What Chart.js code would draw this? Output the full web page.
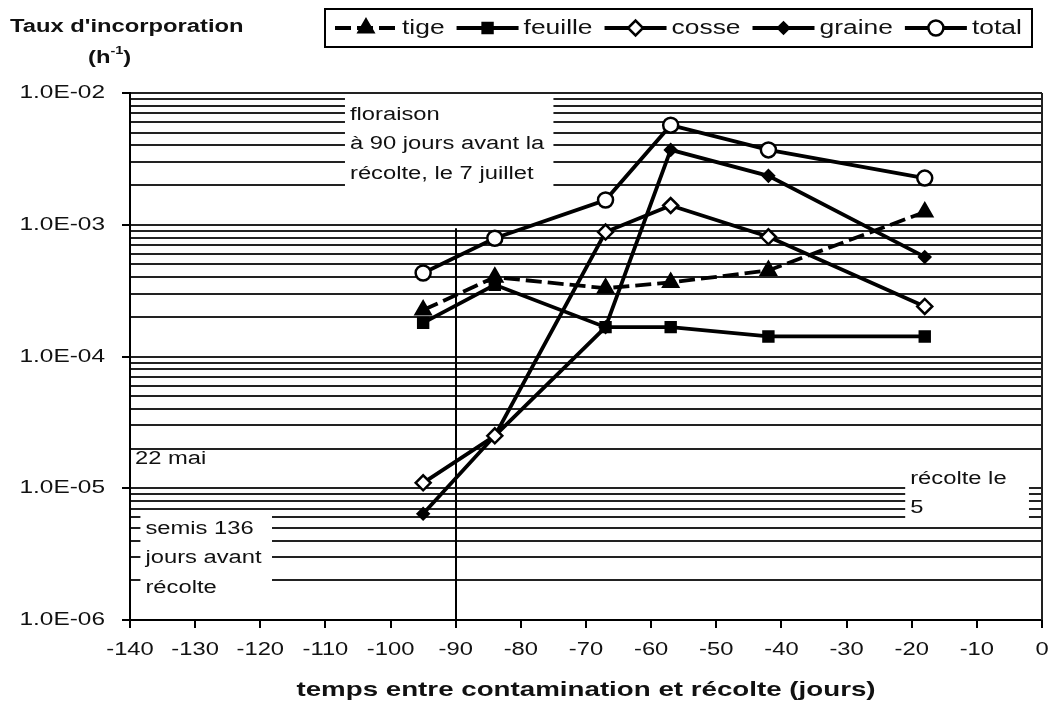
<!DOCTYPE html>
<html>
<head>
<meta charset="utf-8">
<script src="https://cdn.jsdelivr.net/npm/chart.js@4/dist/chart.umd.min.js"></script>
<style>
html,body{margin:0;padding:0;background:#fff;}
canvas{display:block;}
</style>
</head>
<body>
<canvas id="c" width="1053" height="704"></canvas>
<script>
// ---- data ----
const days = [-95, -84, -67, -57, -42, -18];
const tige    = [2.25e-4, 4.0e-4, 3.3e-4, 3.65e-4, 4.5e-4, 1.25e-3];
const feuille = [1.8e-4, 3.5e-4, 1.67e-4, 1.67e-4, 1.42e-4, 1.42e-4];
const cosse   = [1.1e-5, 2.5e-5, 8.8e-4, 1.4e-3, 8.1e-4, 2.4e-4];
const graine  = [6.4e-6, 2.5e-5, 1.67e-4, 3.7e-3, 2.35e-3, 5.7e-4];
const total   = [4.3e-4, 7.9e-4, 1.54e-3, 5.7e-3, 3.7e-3, 2.26e-3];
const seriesNames = ['tige', 'feuille', 'cosse', 'graine', 'total'];

const xTicks = [-140, -130, -120, -110, -100, -90, -80, -70, -60, -50, -40, -30, -20, -10, 0];
const yDecades = [1e-6, 1e-5, 1e-4, 1e-3, 1e-2];
const yTickLabels = ['1.0E-06', '1.0E-05', '1.0E-04', '1.0E-03', '1.0E-02'];
const yMinorMultipliers = [2, 3, 4, 5, 6, 7, 8, 9];

const xTitle = 'temps entre contamination et récolte (jours)';
const yTitle = "Taux d'incorporation";

// annotations (data coordinates)
const floraisonLine = { x: -90, yTop: 9.4e-4, yBottom: 1e-6 };
const notes = [
  { x0: -107, x1: -75, y0: 9.5e-3, y1: 1.75e-3, lines: ['floraison', 'à 90 jours avant la', 'récolte, le 7 juillet'], box: true },
  { x0: -138.4, x1: -118.2, y0: 6.6e-6, y1: 1.3e-6, lines: ['semis 136', 'jours avant', 'récolte'], box: true },
  { x0: -21.0, x1: -2.0, y0: 1.5e-5, y1: 5.5e-6, lines: ['récolte le', '5'], box: true },
  { x0: -140, x1: -120, y0: 2.5e-5, y1: 1.1e-5, lines: ['22 mai'], box: false }
];

const SX = 1.32;
const FAM = '"Liberation Sans", Arial, sans-serif';

function txt(ctx, s, x, y, font, align, sx) {
  sx = sx || SX;
  ctx.save();
  ctx.font = font;
  ctx.fillStyle = '#111';
  ctx.textBaseline = 'middle';
  ctx.textAlign = 'left';
  const w = ctx.measureText(s).width * sx;
  let left = x;
  if (align === 'right') left = x - w;
  else if (align === 'center') left = x - w / 2;
  ctx.translate(left, y);
  ctx.scale(sx, 1);
  ctx.fillText(s, 0, 0);
  ctx.restore();
  return w;
}

const styles = {
  tige:    { pointStyle: 'triangle', pointRadius: 8.5, pointBackgroundColor: '#000', borderDash: [16, 6] },
  feuille: { pointStyle: 'rect', pointRadius: 7, pointBackgroundColor: '#000', borderDash: [] },
  cosse:   { pointStyle: 'rectRot', pointRadius: 7.5, pointBackgroundColor: '#fff', borderDash: [] },
  graine:  { pointStyle: 'rectRot', pointRadius: 5.5, pointBackgroundColor: '#000', borderDash: [] },
  total:   { pointStyle: 'circle', pointRadius: 7.5, pointBackgroundColor: '#fff', borderDash: [] }
};
const seriesValues = { tige, feuille, cosse, graine, total };

const datasets = seriesNames.map(name => ({
  label: name,
  data: days.map((d, i) => ({ x: d, y: seriesValues[name][i] })),
  borderColor: '#000',
  borderWidth: 3.8,
  borderDash: styles[name].borderDash,
  pointStyle: styles[name].pointStyle,
  pointRadius: styles[name].pointRadius,
  pointBackgroundColor: styles[name].pointBackgroundColor,
  pointBorderColor: '#000',
  pointBorderWidth: 2.5,
  tension: 0,
  fill: false
}));

const annotPlugin = {
  id: 'annot',
  beforeDatasetsDraw(chart) {
    const ctx = chart.ctx, xs = chart.scales.x, ys = chart.scales.y;
    ctx.save();
    ctx.strokeStyle = '#000';
    ctx.lineWidth = 2;
    const vx = Math.round(xs.getPixelForValue(floraisonLine.x));
    ctx.beginPath();
    ctx.moveTo(vx, ys.getPixelForValue(floraisonLine.yTop));
    ctx.lineTo(vx, ys.getPixelForValue(floraisonLine.yBottom));
    ctx.stroke();
    ctx.restore();
    notes.forEach(n => {
      const l = xs.getPixelForValue(n.x0), r = xs.getPixelForValue(n.x1);
      const t = ys.getPixelForValue(n.y0), b = ys.getPixelForValue(n.y1);
      if (n.box) {
        ctx.save();
        ctx.fillStyle = '#fff';
        ctx.fillRect(l, t, r - l, b - t);
        ctx.restore();
      }
      const lh = 29.5;
      const h = lh * n.lines.length;
      const startY = (t + b) / 2 - h / 2 + lh / 2;
      n.lines.forEach((s, i) => {
        txt(ctx, s, l + 5, startY + i * lh, '18px ' + FAM, 'left');
      });
    });
  },
  afterDraw(chart) {
    const ctx = chart.ctx, xs = chart.scales.x, ys = chart.scales.y;
    const ca = chart.chartArea;
    ctx.save();
    ctx.strokeStyle = '#222';
    ctx.lineWidth = 2;
    ctx.beginPath();
    ctx.moveTo(ca.right, ca.top);
    ctx.lineTo(ca.right, ca.bottom);
    ctx.stroke();
    ctx.restore();
    yDecades.forEach((v, i) => {
      txt(ctx, yTickLabels[i], 105, ys.getPixelForValue(v), '18.5px ' + FAM, 'right');
    });
    xTicks.forEach(v => {
      txt(ctx, String(v), xs.getPixelForValue(v), 650, '18px ' + FAM, 'center');
    });
    txt(ctx, xTitle, (ca.left + ca.right) / 2, 690, 'bold 21px ' + FAM, 'center');
    txt(ctx, yTitle, 10, 27, 'bold 18px ' + FAM, 'left');
    let px = 88;
    px += txt(ctx, '(h', px, 58, 'bold 18px ' + FAM, 'left');
    px += txt(ctx, '-1', px, 51, 'bold 11px ' + FAM, 'left');
    txt(ctx, ')', px, 58, 'bold 18px ' + FAM, 'left');
    // legend
    ctx.save();
    ctx.fillStyle = '#fff';
    ctx.fillRect(325, 9, 707, 38);
    ctx.strokeStyle = '#000';
    ctx.lineWidth = 2;
    ctx.strokeRect(325, 9, 707, 38);
    ctx.restore();
    let lx = 335;
    const ly = 28;
    chart.data.datasets.forEach(ds => {
      ctx.save();
      ctx.strokeStyle = '#000';
      ctx.lineWidth = 3.8;
      ctx.setLineDash(ds.borderDash || []);
      ctx.beginPath();
      ctx.moveTo(lx, ly);
      ctx.lineTo(lx + 62, ly);
      ctx.stroke();
      ctx.setLineDash([]);
      ctx.fillStyle = ds.pointBackgroundColor;
      ctx.strokeStyle = '#000';
      ctx.lineWidth = 2.5;
      Chart.helpers.drawPoint(ctx, { pointStyle: ds.pointStyle, rotation: 0, radius: ds.pointRadius, borderWidth: 2.5 }, lx + 31, ly);
      ctx.restore();
      lx += 62 + 5;
      lx += txt(ctx, ds.label, lx, ly, '20px ' + FAM, 'left');
      lx += 12;
    });
  }
};

new Chart(document.getElementById('c'), {
  type: 'line',
  data: { datasets },
  options: {
    responsive: false,
    animation: false,
    devicePixelRatio: 1,
    layout: { padding: { top: 93, right: 8, left: 0, bottom: 0 } },
    plugins: { legend: { display: false }, tooltip: { enabled: false } },
    scales: {
      x: {
        type: 'linear',
        min: -140,
        max: 0,
        afterBuildTicks: s => { s.ticks = xTicks.map(v => ({ value: v })); },
        afterFit: s => { s.height = 84; },
        ticks: { display: false, autoSkip: false },
        grid: { drawOnChartArea: false, drawTicks: true, tickLength: 8, color: '#000', tickColor: '#000', lineWidth: 2 },
        border: { display: true, color: '#000', width: 2 }
      },
      y: {
        type: 'logarithmic',
        min: 1e-6,
        max: 1e-2,
        afterBuildTicks: s => {
          const t = [];
          yDecades.forEach((d, i) => {
            t.push({ value: d, major: true });
            if (i < yDecades.length - 1) yMinorMultipliers.forEach(m => t.push({ value: d * m, major: false }));
          });
          s.ticks = t;
        },
        afterFit: s => { s.width = 130; },
        ticks: { display: false, autoSkip: false },
        grid: {
          drawOnChartArea: true,
          drawTicks: true,
          tickLength: 8,
          color: '#222',
          lineWidth: 2,
          tickColor: c => (c.tick && c.tick.major) ? '#000' : 'rgba(0,0,0,0)'
        },
        border: { display: true, color: '#000', width: 2 }
      }
    }
  },
  plugins: [annotPlugin]
});
</script>
</body>
</html>
